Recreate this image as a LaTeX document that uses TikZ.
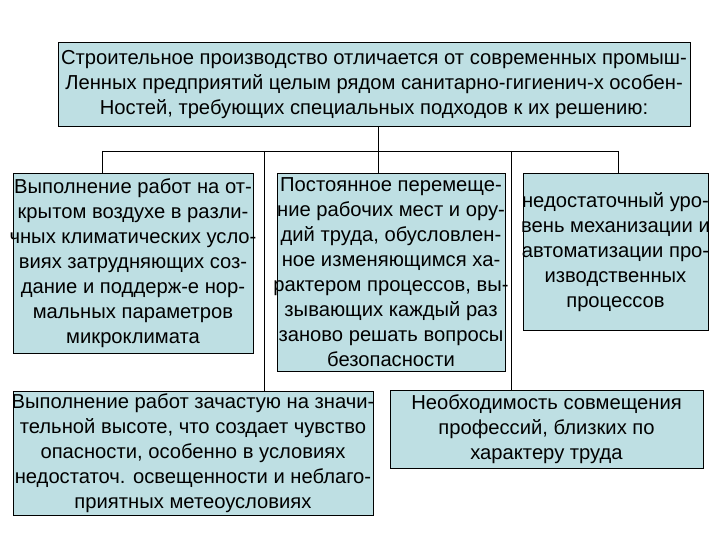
\documentclass[tikz,border=0pt]{standalone}
\usepackage{fontspec}
\setmainfont{Liberation Sans}
\usepackage{tikz}
\definecolor{boxfill}{RGB}{190,223,227}
\tikzset{factor/.style={draw,fill=boxfill,line width=1pt,inner sep=0pt}}
\tikzset{lbl/.style={align=center,inner sep=0pt,
                     font=\fontsize{20.2}{25}\selectfont}}

\begin{document}
\begin{tikzpicture}[x=1pt,y=-1pt]
	\tikzstyle{wire}=[line width=0.9pt]
    % page frame, pixel coordinates (y grows downwards)
    \useasboundingbox (0,0) rectangle (720,540);

  % Heading
  \node[factor,minimum width=632pt,minimum height=84pt,
        label={[lbl]center:{Строительное производство отличается от современных промыш-\\
     Ленных предприятий целым рядом санитарно-гигиенич-х особен-\\
     Ностей, требующих специальных подходов к их решению:}}] (head) at (374,85) {};

  % First row
  \node[factor,minimum width=240pt,minimum height=179pt,
        label={[lbl]center:{Выполнение работ на от-\\крытом воздухе в разли-\\чных климатических усло-\\
     виях затрудняющих соз-\\дание и поддерж-е нор-\\мальных параметров\\микроклимата}}] (klimat) at (133,263.5) {};
  \node[factor,minimum width=228pt,minimum height=197pt,
        label={[lbl]center:{Постоянное перемеще-\\ние рабочих мест и ору-\\дий труда, обусловлен-\\
     ное изменяющимся ха-\\рактером процессов, вы-\\зывающих каждый раз\\
     заново решать вопросы\\безопасности}}] (perem) at (391,272.5) {};
  \node[factor,minimum width=185pt,minimum height=156pt,
        label={[lbl]center:{недостаточный уро-\\вень механизации и\\автоматизации про-\\изводственных\\процессов}}] (mehan) at (615.5,252) {};

  % Second row
  \node[factor,minimum width=360pt,minimum height=124pt,
        label={[lbl]center:{Выполнение работ зачастую на значи-\\тельной высоте, что создает чувство\\
     опасности, особенно в условиях\\недостаточ. освещенности и неблаго-\\
     приятных метеоусловиях}}] (vysota) at (193,453) {};
  \node[factor,minimum width=313pt,minimum height=78pt,
        label={[lbl]center:{Необходимость совмещения\\профессий, близких по\\характеру труда}}] (sovm) at (546.5,429) {};

    % The bus and its drops:
    \coordinate (hub)  at (378,151);
    \coordinate (busL) at (102,151);
    \coordinate (busA) at (264,151);
    \coordinate (busB) at (511,151);
    \coordinate (busR) at (618,151);
    \path[wire]
        (head.south -| hub) edge (hub |- perem.north)
        (busL) edge (busR)
        (busL) edge (busL |- klimat.north)
        (busA) edge (busA |- vysota.north)
        (busB) edge (busB |- sovm.north)
        (busR) edge (busR |- mehan.north)
        ;
\end{tikzpicture}
\end{document}
